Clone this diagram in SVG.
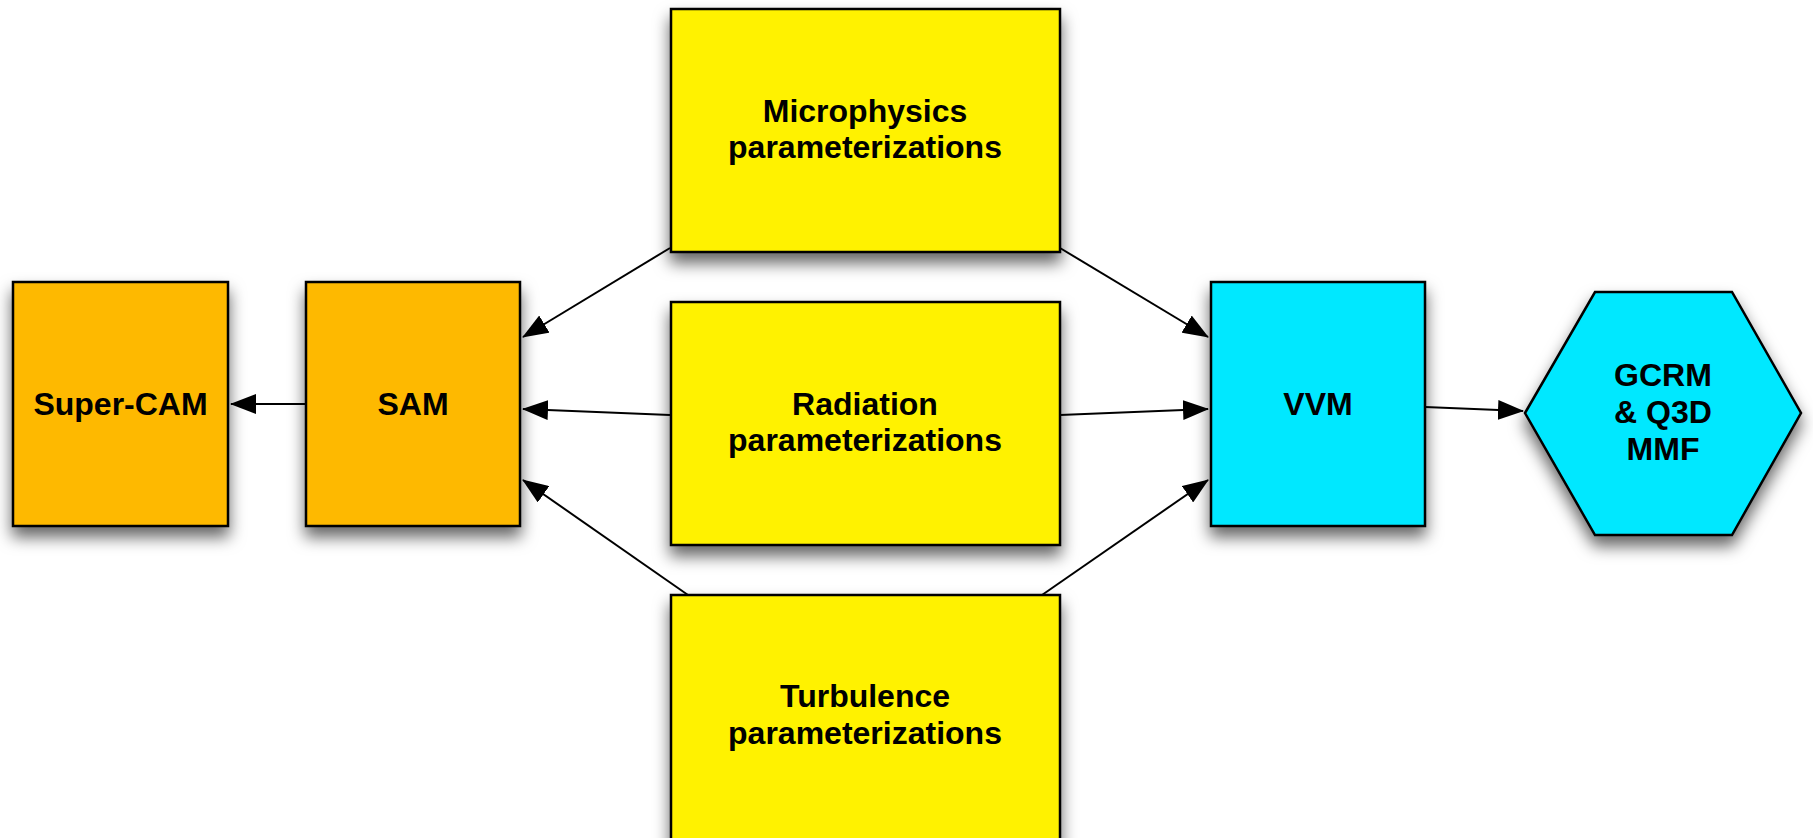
<svg xmlns="http://www.w3.org/2000/svg" width="1813" height="838" viewBox="0 0 1813 838">
<style>
.box{stroke:#000;stroke-width:2.5;filter:url(#sh)}
.or{fill:#FEB900}
.ye{fill:#FFF200}
.cy{fill:#00E8FF}
.t{font-family:"Liberation Sans",Arial,Helvetica,sans-serif;font-weight:bold;font-size:32px;fill:#000;text-anchor:middle}
.c{stroke:#000;stroke-width:2;fill:none;marker-end:url(#ah)}
</style>
<defs>
<filter id="sh" x="-20%" y="-20%" width="140%" height="160%">
<feDropShadow dx="0" dy="10" stdDeviation="8" flood-color="#000" flood-opacity="0.6"/>
</filter>
<marker id="ah" viewBox="0 0 26 20" markerWidth="26" markerHeight="20" refX="25" refY="10" orient="auto" markerUnits="userSpaceOnUse">
<path d="M0,0 L26,10 L0,20 Z" fill="#000"/>
</marker>
</defs>
<rect width="1813" height="838" fill="#fff"/>
<g id="connectors">
<line class="c" x1="306" y1="404" x2="231" y2="404"/>
<line class="c" x1="670" y1="248" x2="523" y2="337"/>
<line class="c" x1="670" y1="415" x2="523" y2="409"/>
<line class="c" x1="688" y1="595" x2="523" y2="480"/>
<line class="c" x1="1060" y1="248" x2="1208" y2="337"/>
<line class="c" x1="1060" y1="415" x2="1208" y2="409"/>
<line class="c" x1="1042" y1="595" x2="1208" y2="480"/>
<line class="c" x1="1425" y1="407" x2="1523" y2="411"/>
</g>
<g id="supercam">
<rect class="box or" x="13" y="282" width="215" height="244"/>
<text class="t" x="120.5" y="415">Super-CAM</text>
</g>
<g id="sam">
<rect class="box or" x="306" y="282" width="214" height="244"/>
<text class="t" x="413" y="415">SAM</text>
</g>
<g id="microphysics">
<rect class="box ye" x="671" y="9" width="389" height="243"/>
<text class="t" x="865" y="122">Microphysics</text>
<text class="t" x="865" y="158">parameterizations</text>
</g>
<g id="radiation">
<rect class="box ye" x="671" y="302" width="389" height="243"/>
<text class="t" x="865" y="415">Radiation</text>
<text class="t" x="865" y="451">parameterizations</text>
</g>
<g id="turbulence">
<rect class="box ye" x="671" y="595" width="389" height="250"/>
<text class="t" x="865" y="707">Turbulence</text>
<text class="t" x="865" y="744">parameterizations</text>
</g>
<g id="vvm">
<rect class="box cy" x="1211" y="282" width="214" height="244"/>
<text class="t" x="1318" y="415">VVM</text>
</g>
<g id="gcrm">
<polygon class="box cy" points="1525,413 1595,292 1732,292 1801,413 1732,535 1595,535"/>
<text class="t" x="1663" y="386">GCRM</text>
<text class="t" x="1663" y="423">&amp; Q3D</text>
<text class="t" x="1663" y="460">MMF</text>
</g>
</svg>
